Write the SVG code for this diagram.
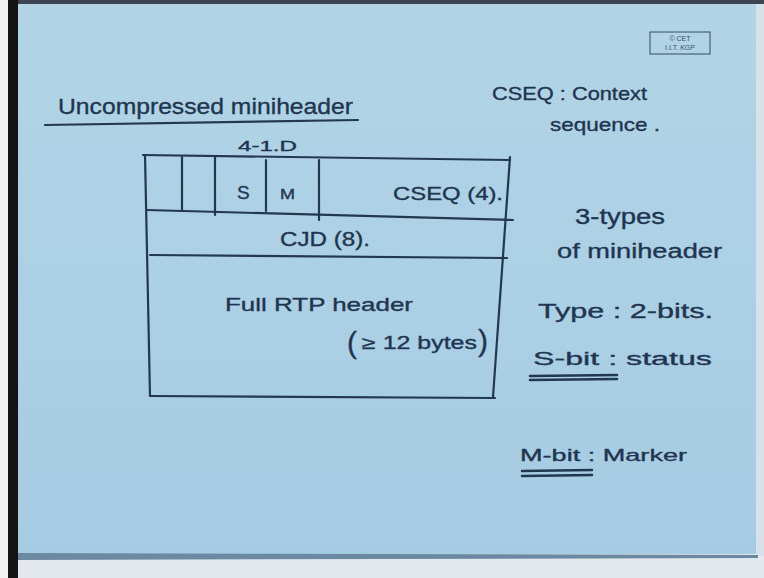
<svg xmlns="http://www.w3.org/2000/svg" width="764" height="578" viewBox="0 0 764 578">
<defs>
<linearGradient id="paper" x1="0" y1="0" x2="0" y2="1">
<stop offset="0" stop-color="#b2d4e6"/>
<stop offset="1" stop-color="#a6cce3"/>
</linearGradient>
</defs>
<style>
.ink{fill:#1f3550;stroke:#1f3550;stroke-width:0.35;font-family:"Liberation Sans","DejaVu Sans",sans-serif}
.ln{stroke:#22384f;stroke-width:2.2;fill:none;stroke-linecap:round;stroke-linejoin:round}
.ul{stroke:#22384f;stroke-width:2.5;fill:none;stroke-linecap:round}
</style>
<rect width="764" height="578" fill="#e2e8ee"/>
<rect x="0" y="0" width="764" height="5" fill="#3b4450"/>
<rect x="18" y="4" width="740" height="550" fill="url(#paper)"/>
<rect x="756" y="4" width="8" height="552" fill="#d7e1ea"/>
<path d="M18 553 L758 555 L758 558 L18 560 Z" fill="#6b8aa2"/>
<rect x="0" y="0" width="8" height="578" fill="#f2f2f2"/>
<rect x="8" y="0" width="10" height="578" fill="#141414"/>

<g id="logo">
<rect x="650" y="32" width="60" height="22" fill="none" stroke="#4a6278" stroke-width="1.2"/>
<text x="680" y="41" font-size="7" text-anchor="middle" fill="#3a5068" font-family="Liberation Sans, sans-serif">© CET</text>
<text x="680" y="50" font-size="7" text-anchor="middle" fill="#3a5068" font-family="Liberation Sans, sans-serif">I.I.T. KGP</text>
</g>

<g id="title">
<text class="ink" x="58" y="114" font-size="22" textLength="295" lengthAdjust="spacingAndGlyphs">Uncompressed miniheader</text>
<path class="ln" d="M45 125 Q200 122 358 120"/>
</g>

<g id="packet">
<text class="ink" x="238" y="151" font-size="14" textLength="59" lengthAdjust="spacingAndGlyphs">4-1.D</text>
<path class="ln" d="M143 155 L510 160"/>
<path class="ln" d="M145 155 L150 396"/>
<path class="ln" d="M510 157 L493 397"/>
<path class="ln" d="M150 396 L495 398"/>
<path class="ln" d="M147 210 L513 220"/>
<path class="ln" d="M150 255 L507 258"/>
<path class="ln" d="M182 157 L182 211"/>
<path class="ln" d="M215 157 L215 215"/>
<path class="ln" d="M266 160 L266 211"/>
<path class="ln" d="M319 160 L319 220"/>
<g id="cell-s"><text class="ink" x="237" y="199" font-size="19">S</text></g>
<g id="cell-m"><text class="ink" x="280" y="199" font-size="14" textLength="15" lengthAdjust="spacingAndGlyphs">M</text></g>
<g id="cell-cseq"><text class="ink" x="393" y="200" font-size="18" textLength="110" lengthAdjust="spacingAndGlyphs">CSEQ (4).</text></g>
<g id="cell-cid"><text class="ink" x="280" y="246" font-size="20" textLength="90" lengthAdjust="spacingAndGlyphs">CJD (8).</text></g>
<g id="cell-rtp">
<text class="ink" x="225" y="311" font-size="19" textLength="188" lengthAdjust="spacingAndGlyphs">Full RTP header</text>
<text class="ink" x="347" y="353" font-size="30">(</text>
<text class="ink" x="362" y="349" font-size="18" textLength="115" lengthAdjust="spacingAndGlyphs">≥ 12 bytes</text>
<text class="ink" x="478" y="351" font-size="30">)</text>
</g>
</g>

<g id="notes">
<text class="ink" x="492" y="100" font-size="19" textLength="155" lengthAdjust="spacingAndGlyphs">CSEQ : Context</text>
<text class="ink" x="550" y="131" font-size="19" textLength="110" lengthAdjust="spacingAndGlyphs">sequence .</text>
<text class="ink" x="575" y="224" font-size="22" textLength="90" lengthAdjust="spacingAndGlyphs">3-types</text>
<text class="ink" x="557" y="258" font-size="20" textLength="165" lengthAdjust="spacingAndGlyphs">of miniheader</text>
<text class="ink" x="538" y="318" font-size="21" textLength="175" lengthAdjust="spacingAndGlyphs">Type : 2-bits.</text>
<text class="ink" x="533" y="365" font-size="19" textLength="179" lengthAdjust="spacingAndGlyphs">S-bit : status</text>
<path class="ul" d="M530 376 L617 375 M530 380 L617 379"/>
<text class="ink" x="520" y="461" font-size="17" textLength="167" lengthAdjust="spacingAndGlyphs">M-bit : Marker</text>
<path class="ul" d="M522 471 L592 470 M522 476 L592 475"/>
</g>
</svg>
